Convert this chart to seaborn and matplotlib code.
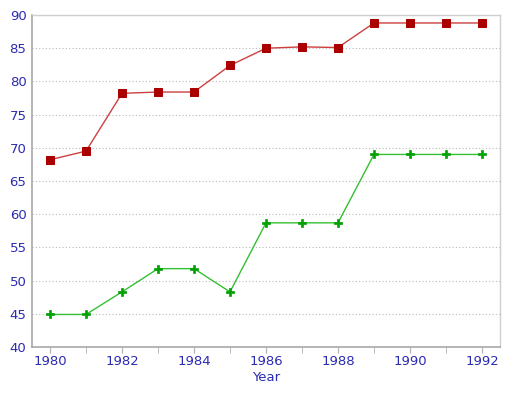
import pandas as pd
import matplotlib.pyplot as plt
import seaborn as sns
import numpy as np

years = list(range(1980, 1993))
red_values = [68.2, 69.5, 78.2, 78.4, 78.4, 82.4, 85.0, 85.2, 85.1, 88.8, 88.8, 88.8, 88.8]
green_values = [44.9, 44.9, 48.3, 51.8, 51.8, 48.3, 58.7, 58.7, 58.7, 69.0, 69.0, 69.0, 69.0]

df = pd.DataFrame({"Year": years, "red": red_values, "green": green_values})

sns.set_style("white")
plt.rcParams['font.family'] = ['DejaVu Sans']

fig = plt.figure(figsize=(5.13, 3.93), dpi=100)
ax = fig.add_axes([32 / 513, 46 / 393, 468 / 513, 332 / 393])

# red series with square markers
sns.lineplot(data=df, x="Year", y="red", ax=ax, color="#cc4040", linewidth=1,
             marker="s", markersize=6, markerfacecolor="#aa0000",
             markeredgecolor="#aa0000")
# green series with plus markers
sns.lineplot(data=df, x="Year", y="green", ax=ax, color="#33c033", linewidth=1,
             marker="P", markersize=6, markerfacecolor="#00a000",
             markeredgecolor="#00a000", markeredgewidth=0.5)

ax.set_xlim(1979.5, 1992.5)
ax.set_ylim(40, 90)
ax.set_xticks(range(1980, 1993, 2))
ax.set_xticks(range(1981, 1993, 2), minor=True)
ax.set_yticks(range(40, 91, 5))
ax.yaxis.grid(True, linestyle=(0, (1, 2)), color="#b8b8b8", linewidth=0.8)
ax.set_axisbelow(True)

blue = "#2b2bb0"
ax.tick_params(axis="x", which="both", direction="out", length=4, color="#b0b0b0",
               labelcolor=blue, labelsize=9.5, bottom=True, pad=2)
ax.tick_params(axis="y", length=0, labelcolor=blue, labelsize=9.5, pad=4)
ax.set_xlabel("Year", color=blue, fontsize=9.5, labelpad=2)
ax.set_ylabel("")

for side in ["left", "bottom"]:
    ax.spines[side].set_color("#a8a8a8")
    ax.spines[side].set_linewidth(1.2)
for side in ["top", "right"]:
    ax.spines[side].set_color("#cfcfcf")
    ax.spines[side].set_linewidth(1)

fig.savefig("out.png", dpi=100)
